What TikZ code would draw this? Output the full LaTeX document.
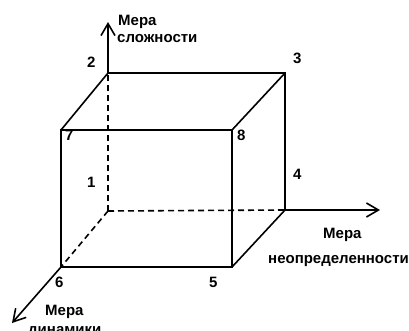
\documentclass[tikz,border=0pt]{standalone}
\usepackage{fontspec}
\setmainfont{Liberation Sans}
\usetikzlibrary{arrows.meta}
\begin{document}
\begin{tikzpicture}[x=1pt,y=-1pt,
  edge/.style={line width=1.6pt, line cap=round},
  hidden/.style={line width=1.6pt, dash pattern=on 6pt off 4pt},
  axis/.style={line width=1.6pt, -{Straight Barb[length=12pt,width=14pt,line width=1.6pt]}},
  lbl/.style={inner sep=0pt, anchor=base west, font=\fontsize{15}{17}\selectfont\bfseries}]
\useasboundingbox (0,0) rectangle (409,330);
% box corners
\coordinate (o)  at (108,211);
\coordinate (c2) at (108,73);
\coordinate (c3) at (285,73);
\coordinate (c4) at (285,210);
\coordinate (c7) at (61,130);
\coordinate (c8) at (232,130);
\coordinate (c6) at (61,267);
\coordinate (c5) at (232,267);
% axis ends
\coordinate (ty) at (108,22);
\coordinate (tx) at (380,210);
\coordinate (tz) at (12,323);
% hidden edges
\draw[hidden] (o) -- (c2);
\draw[hidden] (o) -- (c4);
\draw[hidden] (o) -- (c6);
% visible edges
\draw[edge] (c7) -- (c8) -- (c5) -- (c6) -- cycle;
\draw[edge] (c2) -- (c3) -- (c4);
\draw[edge] (c2) -- (c7);
\draw[edge] (c3) -- (c8);
\draw[edge] (c4) -- (c5);
% axes
\draw[axis] (c2) -- (ty);
\draw[axis] (c4) -- (tx);
\draw[axis] (c6) -- (tz);
% axis labels
\node[lbl] (ya) at (118,25) {Мера};
\node[lbl] (yb) at (117,42) {сложности};
\node[lbl] (xa) at (323,238) {Мера};
\node[lbl] (xb) at (268,263) {неопределенности};
\node[lbl] (za) at (45,315) {Мера};
\node[lbl] (zb) at (28,334) {динамики};
% vertex numbers
\node[lbl] (n1) at (87,187) {1};
\node[lbl] (n2) at (87,67) {2};
\node[lbl] (n3) at (293,63) {3};
\node[lbl] (n4) at (293,179) {4};
\node[lbl] (n5) at (209,287) {5};
\node[lbl] (n6) at (55,287) {6};
\node[lbl] (n7) at (65,140) {7};
\node[lbl] (n8) at (237,140) {8};
\end{tikzpicture}
\end{document}
